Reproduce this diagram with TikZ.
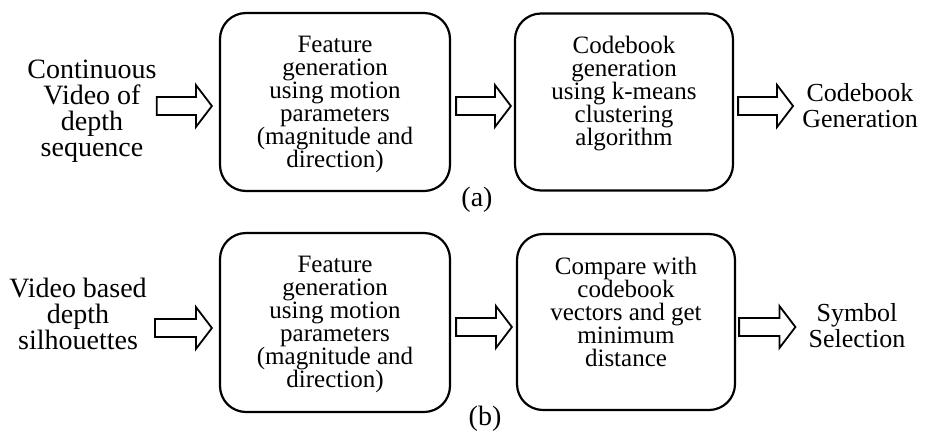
\documentclass[tikz,border=0pt]{standalone}
\usepackage{fontspec}
\setmainfont{Liberation Serif}
\usepackage{tikz}
\usetikzlibrary{calc}
\newcommand{\stagetext}[3]{\parbox[c][#2][t]{#1}{\centering\lineskiplimit=-10pt
    \vspace*{23pt}#3}}
\newcommand{\blockarrow}[2]{\draw[blockarrow] let \p1=#1, \p2=#2 in
    (\x1,\y1+9pt) -- (\x2-16pt,\y1+9pt) -- (\x2-16pt,\y1+21pt) -- (\x2,\y1)
    -- (\x2-16pt,\y1-21pt) -- (\x2-16pt,\y1-9pt) -- (\x1,\y1-9pt) -- cycle;}

\begin{document}
\begin{tikzpicture}[x=1pt,y=-1pt,
    stage/.style={draw,line width=2.2pt,rounded corners=26pt,inner sep=0pt,
                  font=\fontsize{25}{23}\selectfont},
    sidetext/.style={align=center,inner sep=0pt,font=\fontsize{28}{26}\selectfont},
    outtext/.style={align=center,inner sep=0pt,font=\fontsize{26}{25.5}\selectfont},
    subcap/.style={inner sep=0pt,font=\fontsize{28}{30}\selectfont},
    blockarrow/.style={draw,line width=1.8pt,fill=white,line join=miter}]
      \useasboundingbox (0,0) rectangle (929,432);
      \node[sidetext] (vidA) at (92,111) {Continuous\\Video of\\depth\\sequence};
      \node[stage] (fgA) at (335,102) {\stagetext{230pt}{178pt}{Feature\\generation\\using motion\\parameters\\(magnitude and\\direction)}};
      \node[stage] (cbA) at (624,102) {\stagetext{218pt}{177pt}{Codebook\\generation\\using k-means\\clustering\\algorithm}};
      \node[outtext] (outA) at (860,105.5) {Codebook\\Generation};
      \node[subcap] (capA) at (477,200) {(a)};
      \blockarrow{([yshift=5pt]vidA.east)}{([xshift=-7pt]fgA.west)}
      \blockarrow{([xshift=5pt,yshift=-4pt]fgA.east)}{([xshift=-3pt]cbA.west)}
      \blockarrow{([xshift=4pt,yshift=-4pt]cbA.east)}{([xshift=-9pt]outA.west)}

      \node[sidetext] (vidB) at (78,313.5) {Video based\\depth\\silhouettes};
      \node[stage] (fgB) at (335,322.5) {\stagetext{230pt}{179pt}{Feature\\generation\\using motion\\parameters\\(magnitude and\\direction)}};
      \node[stage] (cmB) at (626,322) {\stagetext{218pt}{176pt}{Compare with\\codebook\\vectors and get\\minimum\\distance}};
      \node[outtext] (outB) at (857,325.5) {Symbol\\Selection};
      \node[subcap] (capB) at (485,419) {(b)};
      \blockarrow{([xshift=8pt,yshift=-14.5pt]vidB.east)}{([xshift=-7pt]fgB.west)}
      \blockarrow{([xshift=5pt,yshift=-4.5pt]fgB.east)}{([xshift=-4pt]cmB.west)}
      \blockarrow{([xshift=3pt,yshift=-5pt]cmB.east)}{([xshift=-13pt]outB.west)}
\end{tikzpicture}
\end{document}
